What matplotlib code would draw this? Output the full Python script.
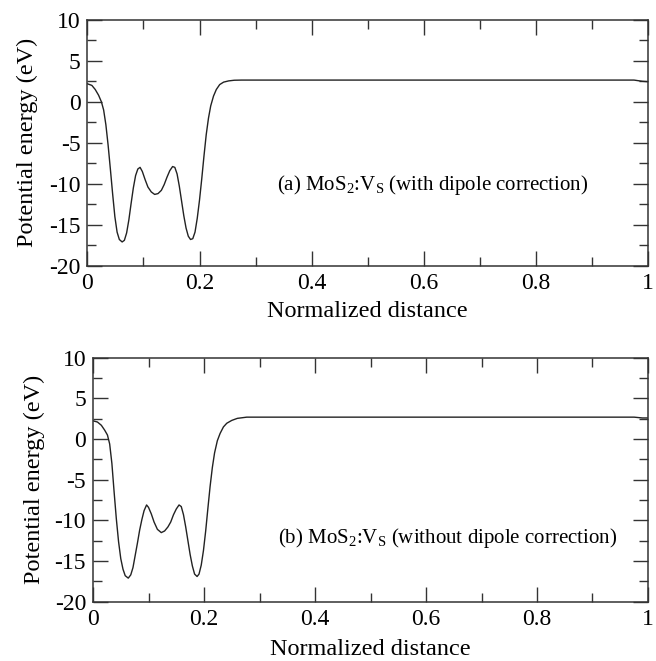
import matplotlib
matplotlib.use("Agg")
import matplotlib.pyplot as plt
from matplotlib.ticker import MultipleLocator

plt.rcParams['font.family'] = ['Liberation Serif', 'DejaVu Serif']
plt.rcParams['mathtext.fontset'] = 'custom'
plt.rcParams['mathtext.rm'] = 'Liberation Serif'
plt.rcParams['mathtext.it'] = 'Liberation Serif:italic'
plt.rcParams['axes.unicode_minus'] = False

# (a) with dipole correction
x_a = [0.000, 0.008, 0.014, 0.020, 0.025, 0.029, 0.033, 0.037, 0.041, 0.045,
       0.049, 0.053, 0.057, 0.062, 0.066, 0.070, 0.074, 0.078, 0.082, 0.086,
       0.090, 0.094, 0.098, 0.103, 0.108, 0.114, 0.120, 0.126, 0.132, 0.137,
       0.142, 0.147, 0.152, 0.156, 0.160, 0.164, 0.168, 0.172, 0.176, 0.180,
       0.184, 0.188, 0.192, 0.196, 0.200, 0.204, 0.208, 0.212, 0.216, 0.220,
       0.225, 0.230, 0.236, 0.243, 0.252, 0.262, 0.275, 0.40, 0.60, 0.80,
       0.975, 0.99, 1.0]
y_a = [2.2, 2.0, 1.5, 0.8, 0.0, -1.0, -2.8, -5.3, -8.2, -11.2,
       -14.0, -15.9, -16.8, -17.1, -16.9, -16.0, -14.4, -12.4, -10.5, -9.0,
       -8.2, -8.0, -8.5, -9.5, -10.4, -11.0, -11.3, -11.2, -10.8, -10.1,
       -9.2, -8.4, -7.9, -8.0, -8.8, -10.3, -12.1, -13.9, -15.4, -16.4,
       -16.8, -16.7, -15.9, -14.2, -12.0, -9.4, -6.6, -4.0, -2.0, -0.5,
       0.7, 1.5, 2.1, 2.4, 2.55, 2.63, 2.65, 2.65, 2.65, 2.65,
       2.65, 2.5, 2.45]

# (b) without dipole correction
x_b = [0.000, 0.008, 0.015, 0.021, 0.026, 0.030, 0.034, 0.038, 0.042, 0.046,
       0.050, 0.054, 0.058, 0.0635, 0.068, 0.072, 0.076, 0.080, 0.084, 0.088,
       0.092, 0.0965, 0.100, 0.105, 0.110, 0.116, 0.123, 0.129, 0.135, 0.140,
       0.145, 0.150, 0.155, 0.159, 0.163, 0.167, 0.171, 0.175, 0.179, 0.183,
       0.1875, 0.191, 0.195, 0.199, 0.203, 0.207, 0.211, 0.215, 0.219, 0.224,
       0.229, 0.235, 0.241, 0.250, 0.260, 0.277, 0.40, 0.60, 0.80, 0.975,
       0.99, 1.0]
y_b = [2.25, 2.1, 1.7, 1.1, 0.5, -0.6, -3.0, -6.5, -9.8, -12.6,
       -14.7, -16.0, -16.8, -17.1, -16.7, -15.8, -14.3, -12.8, -11.2, -9.9,
       -8.8, -8.1, -8.4, -9.2, -10.2, -11.1, -11.5, -11.3, -10.8, -10.2,
       -9.3, -8.6, -8.1, -8.3, -9.3, -10.8, -12.5, -14.2, -15.6, -16.6,
       -16.9, -16.6, -15.5, -13.7, -11.3, -8.5, -5.8, -3.5, -1.7, -0.2,
       0.7, 1.5, 1.95, 2.3, 2.55, 2.7, 2.7, 2.7, 2.7, 2.7,
       2.6, 2.6]

xtick_labels = ['0', '0.2', '0.4', '0.6', '0.8', '1']

fig = plt.figure(figsize=(6.56, 6.61), dpi=100)
ax1 = fig.add_axes([0.1332, 0.598, 0.8546, 0.372])
ax2 = fig.add_axes([0.1418, 0.0897, 0.846, 0.369])

panels = [(ax1, x_a, y_a, r'(a) MoS$_2$:V$_\mathrm{S}$ (with dipole correction)', 0.338, -10.2, 5, 8),
          (ax2, x_b, y_b, r'(b) MoS$_2$:V$_\mathrm{S}$ (without dipole correction)', 0.333, -12.2, 7, 7)]

for ax, xs, ys, label, tx, ty, xpad, ypad in panels:
    ax.plot(xs, ys, color='#222222', lw=1.0)
    ax.set_xlim(0, 1)
    ax.set_ylim(-20, 10)
    ax.set_xticks([0, 0.2, 0.4, 0.6, 0.8, 1.0])
    ax.set_xticklabels(xtick_labels)
    ax.xaxis.set_minor_locator(MultipleLocator(0.1))
    ax.yaxis.set_major_locator(MultipleLocator(5))
    ax.yaxis.set_minor_locator(MultipleLocator(2.5))
    ax.tick_params(which='both', direction='in', top=True, right=True,
                   width=1.0, colors='#333333', labelcolor='black', labelsize=17)
    ax.tick_params(which='major', length=11, pad=5)
    ax.tick_params(which='minor', length=6.5)
    for s in ax.spines.values():
        s.set_linewidth(1.1)
        s.set_color('#333333')
    ax.set_xlabel('Normalized distance', fontsize=17.5, labelpad=xpad)
    ax.set_ylabel('Potential energy (eV)', fontsize=17.5, labelpad=ypad)
    ax.text(tx, ty, label, fontsize=15, va='center', ha='left')

fig.savefig('out.png', dpi=100)
